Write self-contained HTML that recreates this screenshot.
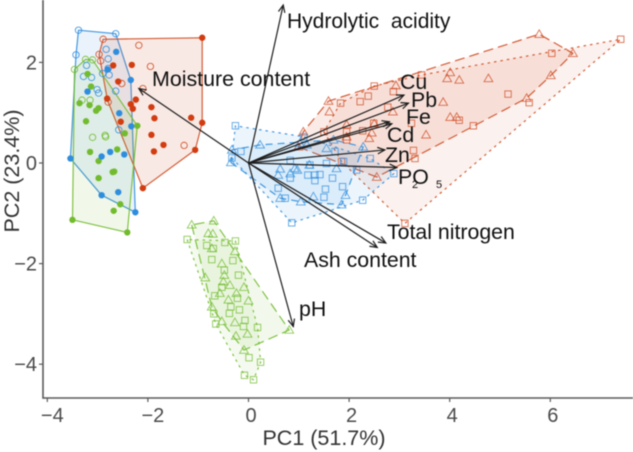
<!DOCTYPE html>
<html lang="en">
<head>
<meta charset="utf-8">
<title>PCA biplot</title>
<style>
html,body{margin:0;padding:0;background:#fff;width:633px;height:452px;overflow:hidden}
svg{display:block;filter:blur(0.42px)}
text{font-family:"Liberation Sans",sans-serif}
</style>
</head>
<body>
<svg id="chart" width="633" height="452" viewBox="0 0 633 452" xmlns="http://www.w3.org/2000/svg"></svg>
<script>
const xTicks = [-4, -2, 0, 2, 4, 6];
const yTicks = [-4, -2, 0, 2];

const blueCircleOpen = [[-3.38,2.64],[-2.64,2.57],[-3.43,2.15],[-2.83,2.26],[-2.79,2.07],[-3.22,1.94],[-3.28,1.72],[-3.12,1.70],[-2.90,1.78],[-2.77,1.75],[-2.79,1.88],[-3.01,1.46],[-2.98,1.39],[-2.64,1.43],[-2.58,0.66]];
const blueCircleFilled = [[-3.54,0.09],[-2.92,-0.64],[-2.25,-0.98],[-2.34,1.65],[-2.33,0.73],[-3.20,1.42],[-2.57,0.99],[-2.75,0.22],[-2.47,0.17],[-2.92,0.13],[-2.59,-0.58],[-2.80,1.86],[-2.63,2.21]];
const redCircleOpen = [[-2.89,2.46],[-2.18,2.34],[-1.95,1.92],[-2.97,2.16],[-2.94,2.03],[-2.52,1.58],[-2.10,1.48],[-1.28,0.35],[-2.79,1.21]];
const redCircleFilled = [[-0.92,2.49],[-0.92,0.80],[-1.06,0.26],[-2.10,-0.50],[-2.81,1.28],[-2.69,1.94],[-2.32,1.95],[-2.59,1.62],[-2.24,1.26],[-2.34,1.17],[-2.30,1.08],[-1.93,1.11],[-1.87,0.89],[-2.54,0.82],[-1.93,0.56],[-1.69,0.36],[-1.88,0.23],[-1.14,0.90]];
const greenCircleOpen = [[-3.46,1.86],[-3.24,2.06],[-3.10,2.05],[-3.31,1.25],[-3.15,1.25],[-3.10,0.51],[-2.85,0.55],[-2.84,0.52]];
const greenCircleFilled = [[-3.50,-1.13],[-2.41,-1.38],[-2.21,0.74],[-3.20,1.77],[-3.13,1.52],[-3.36,1.19],[-3.16,1.15],[-2.98,1.09],[-3.03,1.04],[-3.23,0.83],[-2.46,0.59],[-3.15,0.22],[-2.61,0.27],[-2.98,0.04],[-2.67,-0.17],[-2.70,-0.18],[-2.98,-0.30],[-2.55,-0.82],[-2.68,-0.95]];

const redTriangles = [[5.78,2.56],[6.45,2.18],[6.01,1.74],[5.53,1.29],[4.01,1.80],[3.95,1.68],[4.19,1.65],[4.77,1.68],[2.93,1.54],[3.87,1.21],[4.01,0.91],[4.14,0.91],[3.53,0.56],[1.59,1.23],[1.61,1.02],[2.50,0.78],[2.87,1.02],[2.45,0.60],[2.40,0.49],[1.95,0.52],[2.55,-0.28],[1.09,0.62],[1.95,0.76],[0.99,0.32]];
const redSquares = [[7.40,2.46],[6.03,2.18],[3.44,1.75],[2.50,1.53],[2.88,1.42],[2.38,1.33],[2.22,1.22],[1.83,1.19],[2.77,1.11],[5.16,1.37],[5.58,1.20],[4.19,0.85],[4.47,0.74],[2.49,0.79],[2.27,0.64],[1.95,0.62],[1.50,0.62],[3.24,0.79],[3.28,0.25],[3.31,0.09],[3.11,-1.20],[1.85,0.03],[1.95,0.46]];
const blueTriangles = [[-0.33,0.26],[0.23,0.36],[-0.35,0.01],[0.63,-0.12],[0.92,-0.11],[0.83,-0.21],[0.97,-0.14],[0.59,-0.24],[0.63,-0.70],[1.04,-0.77],[1.29,-0.67],[1.85,-0.83],[1.93,-0.64],[1.75,-0.11],[1.55,0.29],[1.69,0.46],[2.28,0.32],[1.16,0.36],[1.21,-0.04],[1.02,0.39]];
const blueSquares = [[-0.26,0.74],[-0.15,0.23],[0.59,-0.50],[0.73,-0.70],[0.83,-0.30],[1.18,-0.24],[1.32,-0.24],[1.42,-0.23],[1.32,-0.35],[1.67,-0.30],[1.53,-0.52],[1.87,-0.47],[1.50,-0.68],[2.27,-0.74],[0.86,-1.19],[2.42,0.09],[2.15,-0.14],[1.89,0.03],[1.55,-0.01],[2.89,-0.21],[0.83,0.05],[1.22,-0.04],[1.72,0.23],[1.10,0.52],[-0.33,0.10]];
const greenTriangles = [[-1.13,-1.23],[-0.69,-1.15],[0.81,-3.32],[-0.09,-3.72],[-0.80,-1.40],[-0.71,-1.41],[-0.27,-1.76],[-0.73,-1.70],[-0.53,-2.00],[-0.48,-2.23],[-0.86,-2.28],[-0.50,-2.36],[-0.37,-2.43],[-0.09,-2.47],[-0.24,-2.59],[-0.57,-2.59],[-0.40,-2.72],[0.00,-2.74],[-0.73,-2.86],[-0.53,-3.15],[-0.27,-3.17],[-0.02,-3.40],[-0.25,-3.44]];
const greenSquares = [[-1.22,-1.52],[-0.83,-1.64],[-0.47,-1.58],[-0.26,-1.55],[-0.70,-1.70],[-0.73,-1.92],[-0.31,-1.94],[-0.48,-2.13],[-0.20,-2.23],[-0.53,-2.47],[-0.67,-2.64],[-0.22,-2.69],[-0.35,-2.86],[-0.18,-2.92],[-0.38,-2.99],[-0.69,-3.00],[-0.65,-3.20],[-0.07,-3.13],[-0.10,-3.25],[0.18,-3.27],[0.01,-3.87],[0.24,-3.96],[-0.08,-4.22],[0.10,-4.31]];

const loadingNames = ["Hydrolytic", "Moisture", "Cu", "Pb", "Fe", "Cd", "Zn", "P2O5", "Total nitrogen", "Ash", "pH"];
const loadingX = [0.69, -2.18, 3.09, 3.18, 2.80, 2.85, 2.71, 2.95, 2.73, 2.56, 0.89];
const loadingY = [3.14, 1.48, 1.35, 1.19, 0.82, 0.78, 0.26, -0.09, -1.59, -1.68, -3.25];

const NS = "http://www.w3.org/2000/svg";
const svg = document.getElementById("chart");
const xScale = v => 248.5 + 50.3 * v;
const yScale = v => 163 - 50.3 * v;
const AXIS = "#5a5a5a";
const RED = "#cf4a20";
const BLUE = "#2f8ddd";
const GREEN = "#72bb2e";

function make(tag, attrs, parent) {
  const el = document.createElementNS(NS, tag);
  for (const k in attrs) el.setAttribute(k, attrs[k]);
  (parent || svg).appendChild(el);
  return el;
}

function convexHull(points) {
  const p = points.slice().sort((a, b) => a[0] - b[0] || a[1] - b[1]);
  const cross = (o, a, b) => (a[0] - o[0]) * (b[1] - o[1]) - (a[1] - o[1]) * (b[0] - o[0]);
  const lower = [];
  for (const q of p) {
    while (lower.length >= 2 && cross(lower[lower.length - 2], lower[lower.length - 1], q) <= 0) lower.pop();
    lower.push(q);
  }
  const upper = [];
  for (const q of p.slice().reverse()) {
    while (upper.length >= 2 && cross(upper[upper.length - 2], upper[upper.length - 1], q) <= 0) upper.pop();
    upper.push(q);
  }
  return lower.slice(0, -1).concat(upper.slice(0, -1));
}

function drawHull(points, color, dash, opacity, name) {
  const pts = convexHull(points).map(q => xScale(q[0]).toFixed(1) + "," + yScale(q[1]).toFixed(1)).join(" ");
  const el = make("polygon", {points: pts, fill: color, "fill-opacity": opacity, stroke: color, "stroke-opacity": 0.9, "stroke-width": 1.2, "stroke-dasharray": dash, "stroke-linejoin": "round"});
  
  
}

function drawCircles(points, color, filled, name) {
  const g = make("g", {});
  
  
  for (const q of points) {
    make("circle", {cx: xScale(q[0]), cy: yScale(q[1]), r: 3.2, fill: filled ? color : "none", stroke: color, "stroke-width": filled ? 0 : 0.8}, g);
  }
}

function drawSquares(points, color, name) {
  const g = make("g", {});
  
  
  for (const q of points) {
    make("rect", {x: xScale(q[0]) - 3.2, y: yScale(q[1]) - 3.2, width: 6.4, height: 6.4, fill: "none", stroke: color, "stroke-opacity": 0.8, "stroke-width": 0.9}, g);
  }
}

function drawTriangles(points, color, name) {
  const g = make("g", {});
  
  
  for (const q of points) {
    const x = xScale(q[0]), y = yScale(q[1]);
    make("polygon", {points: (x) + "," + (y - 4.4) + " " + (x + 4.4) + "," + (y + 3.2) + " " + (x - 4.4) + "," + (y + 3.2), fill: "none", stroke: color, "stroke-opacity": 0.8, "stroke-width": 0.9}, g);
  }
}

/* hulls */
drawHull(blueCircleOpen.concat(blueCircleFilled), BLUE, "none", 0.1, "hull-blue-circles");
drawHull(redCircleOpen.concat(redCircleFilled), RED, "none", 0.12, "hull-red-circles");
drawHull(greenCircleOpen.concat(greenCircleFilled), GREEN, "none", 0.1, "hull-green-circles");
drawHull(redTriangles, RED, "10 5", 0.11, "hull-red-triangles");
drawHull(redSquares, RED, "2.5 4", 0.08, "hull-red-squares");
drawHull(blueTriangles, BLUE, "7 5", 0.09, "hull-blue-triangles");
drawHull(blueSquares, BLUE, "2.5 4", 0.09, "hull-blue-squares");
drawHull(greenTriangles, GREEN, "10 5", 0.09, "hull-green-triangles");
drawHull(greenSquares, GREEN, "2.5 4", 0.08, "hull-green-squares");

/* points */
drawCircles(redCircleOpen, RED, false, "points-red-open-circles");
drawCircles(greenCircleOpen, GREEN, false, "points-green-open-circles");
drawCircles(blueCircleOpen, BLUE, false, "points-blue-open-circles");
drawCircles(greenCircleFilled, GREEN, true, "points-green-filled-circles");
drawCircles(redCircleFilled, "#d23c10", true, "points-red-filled-circles");
drawCircles(blueCircleFilled, BLUE, true, "points-blue-filled-circles");
drawTriangles(redTriangles, RED, "points-red-triangles");
drawSquares(redSquares, RED, "points-red-squares");
drawTriangles(blueTriangles, BLUE, "points-blue-triangles");
drawSquares(blueSquares, BLUE, "points-blue-squares");
drawTriangles(greenTriangles, GREEN, "points-green-triangles");
drawSquares(greenSquares, GREEN, "points-green-squares");

/* axes */
const xAxis = make("line", {x1: 43, y1: 398, x2: 633, y2: 398, stroke: AXIS, "stroke-width": 1.6});


const yAxis = make("line", {x1: 43, y1: 0, x2: 43, y2: 398.8, stroke: AXIS, "stroke-width": 1.6});



for (const t of xTicks) {
  const x = xScale(t);
  const tick = make("line", {x1: x, y1: 398, x2: x, y2: 402, stroke: AXIS, "stroke-width": 1.2});
  
  
  const lab = make("text", {x: x + (t < 0 ? 5 : 2.5), y: 422, "text-anchor": "middle", "font-size": 20, fill: "#4a4a4a"});
  lab.textContent = String(t).replace("-", "\u2212");
  
  
}
for (const t of yTicks) {
  const y = yScale(t);
  const tick = make("line", {x1: 39, y1: y, x2: 43, y2: y, stroke: AXIS, "stroke-width": 1.2});
  
  
  const lab = make("text", {x: 37, y: y + 7, "text-anchor": "end", "font-size": 20, fill: "#4a4a4a"});
  lab.textContent = String(t).replace("-", "\u2212");
  
  
}

/* loading arrows */
loadingNames.forEach((n, i) => {
  const x1 = xScale(0), y1 = yScale(0), x2 = xScale(loadingX[i]), y2 = yScale(loadingY[i]);
  const a = Math.atan2(y2 - y1, x2 - x1), len = 8, sp = 0.42;
  const g = make("g", {fill: "none", stroke: "#1c1c1c", "stroke-width": 1.2});
  
  
  make("line", {x1: x1, y1: y1, x2: x2, y2: y2}, g);
  make("polyline", {points: (x2 - len * Math.cos(a - sp)) + "," + (y2 - len * Math.sin(a - sp)) + " " + x2 + "," + y2 + " " + (x2 - len * Math.cos(a + sp)) + "," + (y2 - len * Math.sin(a + sp))}, g);
});
</script>
<script>
(function () {
  const labels = [
    ["Hydrolytic  acidity", 287, 28, 21, "label-hydrolytic-acidity"],
    ["Moisture content", 152, 86, 21.4, "label-moisture-content"],
    ["Cu", 400, 89, 21.3, "label-cu"],
    ["Pb", 411, 107, 21.3, "label-pb"],
    ["Fe", 406, 124, 21.3, "label-fe"],
    ["Cd", 387, 142, 21.3, "label-cd"],
    ["Zn", 385, 162, 21.3, "label-zn"],
    ["PO", 398, 184, 21.3, "label-po"],
    ["2", 412, 188, 11, "label-po-subscript-2"],
    ["5", 436, 188, 11, "label-po-subscript-5"],
    ["Total nitrogen", 387, 239, 21.3, "label-total-nitrogen"],
    ["Ash content", 304, 267, 21.3, "label-ash-content"],
    ["pH", 299, 316, 21.3, "label-ph"]
  ];
  for (const l of labels) {
    const t = document.createElementNS("http://www.w3.org/2000/svg", "text");
    t.setAttribute("x", l[1]);
    t.setAttribute("y", l[2]);
    t.setAttribute("font-size", l[3]);
    t.setAttribute("fill", "#111");
    t.style.whiteSpace = "pre";
    t.textContent = l[0];
    
    
    document.getElementById("chart").appendChild(t);
  }
  const xt = document.createElementNS("http://www.w3.org/2000/svg", "text");
  xt.setAttribute("x", 324);
  xt.setAttribute("y", 445);
  xt.setAttribute("text-anchor", "middle");
  xt.setAttribute("font-size", 21.5);
  xt.setAttribute("fill", "#333");
  xt.textContent = "PC1 (51.7%)";
  
  
  document.getElementById("chart").appendChild(xt);
  const yt = document.createElementNS("http://www.w3.org/2000/svg", "text");
  yt.setAttribute("transform", "translate(19,171) rotate(-90)");
  yt.setAttribute("text-anchor", "middle");
  yt.setAttribute("font-size", 21.5);
  yt.setAttribute("fill", "#333");
  yt.textContent = "PC2 (23.4%)";
  
  
  document.getElementById("chart").appendChild(yt);
})();
</script>
</body>
</html>
